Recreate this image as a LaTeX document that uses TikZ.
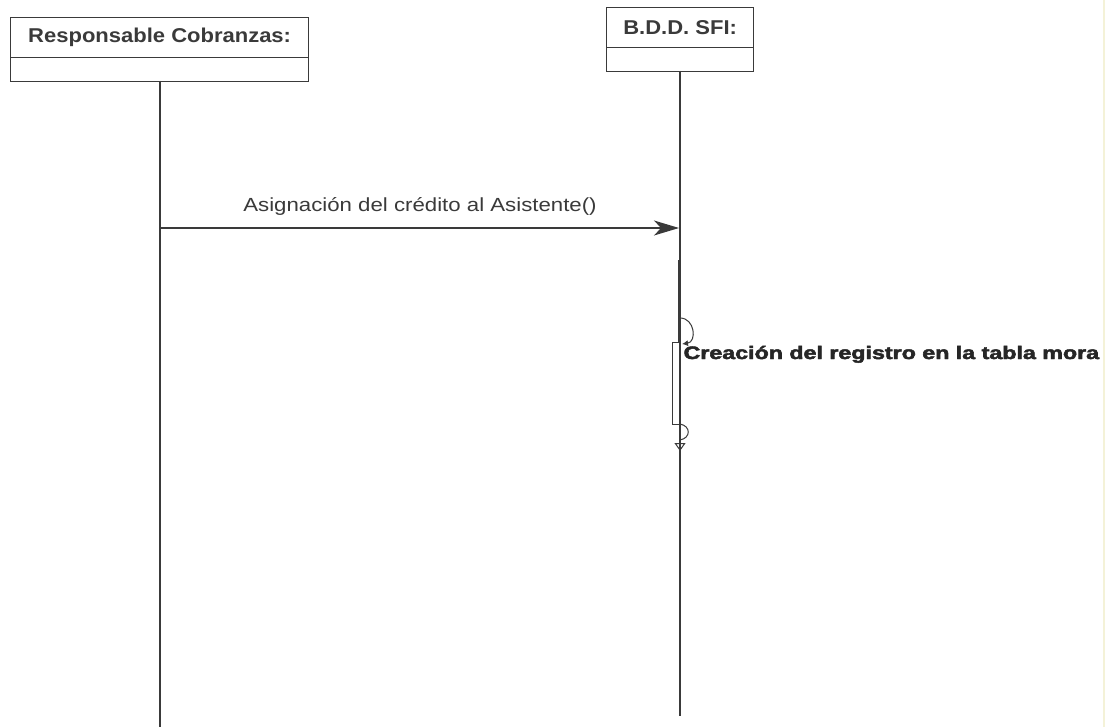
\documentclass[tikz,border=0pt]{standalone}
\usepackage{fontspec}
\setmainfont{Liberation Sans}
\newfontfamily\heavyfont[FakeBold=2.5]{Liberation Sans Bold}
\usetikzlibrary{arrows.meta}
\definecolor{ink}{HTML}{3A3A3A}
\definecolor{edge}{HTML}{F4F2D8}
\begin{document}
\begin{tikzpicture}[x=1pt,y=-1pt,
  line width=1.2pt, draw=ink,
  hdr/.style={draw=ink, line width=1.3pt, fill=white, inner sep=0pt, anchor=north west,
    font=\fontsize{20}{22}\selectfont\bfseries, text=ink},
  slot/.style={draw=ink, line width=1.3pt, fill=white, inner sep=0pt, anchor=north west},
  life/.style={draw=ink, line width=1.2pt},
  msg/.style={draw=ink, line width=1.2pt, -{Stealth[length=25pt,width=15pt,inset=7pt]}},
  lbl/.style={inner sep=0pt, text=ink}]

\useasboundingbox (0,0) rectangle (1105,727);
\fill[white] (0,0) rectangle (1105,727);
\draw[edge, line width=2pt] (1104,0) -- (1104,727);

% object headers
\node[hdr, minimum width=298pt, minimum height=40pt] (rc) at (10,17)
  {\scalebox{1.1}[1]{Responsable Cobranzas:}};
\node[slot, minimum width=298pt, minimum height=24pt] (rcb) at (10,57) {};
\node[hdr, minimum width=147pt, minimum height=40pt] (bd) at (606,7)
  {\scalebox{1.1}[1]{B.D.D. SFI:}};
\node[slot, minimum width=147pt, minimum height=24pt] (bdb) at (606,47) {};

% lifelines
\coordinate (rcend) at (160,727);
\coordinate (bdtop) at (680,71);
\coordinate (bdend) at (680,716);
\draw[life] (160,81) -- (rcend);
\draw[life] (bdtop) -- (bdend);

% message between the two objects
\coordinate (m1a) at (160,228);
\coordinate (m1b) at (679,228);
\draw[msg] (m1a) -- (m1b);
\node[lbl, anchor=base] (m1l) at (420,212)
  {\fontsize{19}{21}\selectfont\scalebox{1.17}[1]{Asignación del crédito al Asistente()}};

% self call and activation
\coordinate (s1a) at (680,318);
\coordinate (s1b) at (682,344);
\draw[line width=1pt, -{Latex[length=6pt,width=6pt]}]
  (s1a) .. controls (695,318) and (697,342) .. (s1b);
\node[draw=ink, line width=1pt, fill=white, minimum width=7pt, minimum height=82pt,
  inner sep=0pt, anchor=north west] (act) at (672,342) {};
\draw[line width=1pt] (act.north east) ++(-1.5pt,0) -- ++(0,82pt);
\coordinate (r1a) at (680,424);
\coordinate (r1b) at (680,440);
\coordinate (r1c) at (680,451);
\draw[line width=1pt] (r1a) .. controls (691,426) and (691,438) .. (r1b);
\draw[line width=1pt, -{Triangle[open,length=8pt,width=11pt]}] (r1b) -- (r1c);
\node[lbl, anchor=base west, text=black!85] (s1l) at (683,359)
  {\fontsize{18}{20}\selectfont\heavyfont\scalebox{1.29}[1]{Creación del registro en la tabla mora}};
\end{tikzpicture}
\end{document}
